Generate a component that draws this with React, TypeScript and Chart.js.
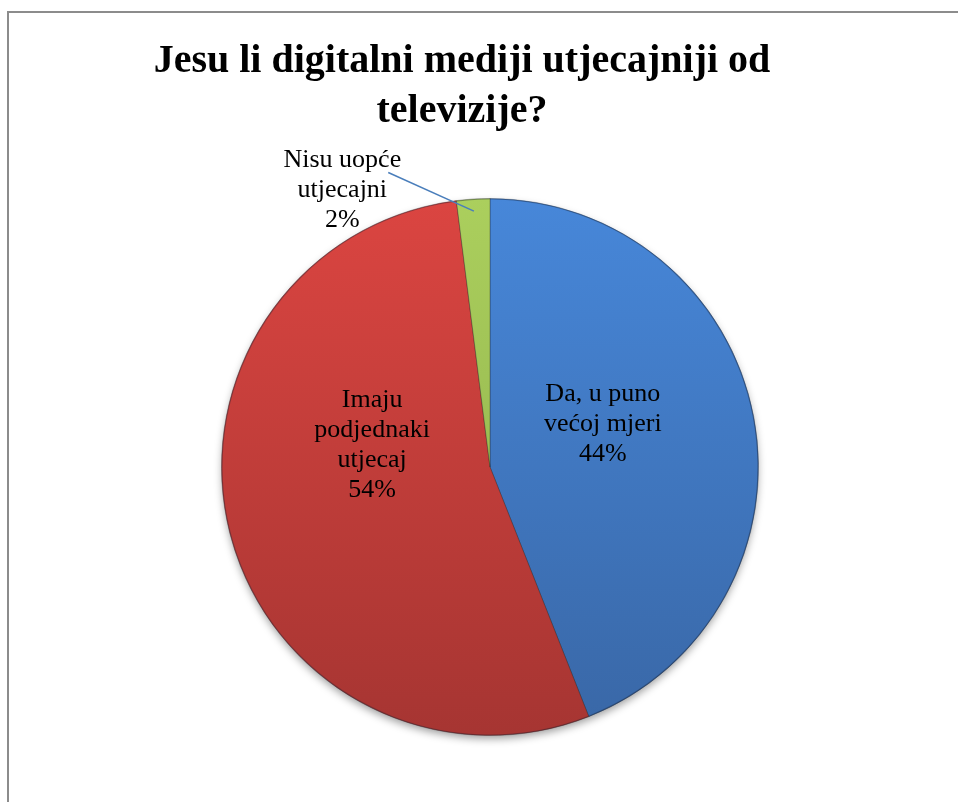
import React, { useEffect, useRef } from "react";
import { Chart, registerables } from "chart.js";

Chart.register(...registerables);

// ---- data ----
const titleLines = ["Jesu li digitalni mediji utjecajniji od", "televizije?"];
const categories = ["Da, u puno većoj mjeri", "Imaju podjednaki utjecaj", "Nisu uopće utjecajni"];
const labelLines = [["Da, u puno", "većoj mjeri"], ["Imaju", "podjednaki", "utjecaj"], ["Nisu uopće", "utjecajni"]];
const values = [44, 54, 2];

// ---- styles ----
const colorsTop = ["#4787d9", "#db4541", "#abcf5d"];
const colorsBottom = ["#3967a6", "#a63532", "#8aab48"];
const SERIF = "'Liberation Serif', 'Times New Roman', serif";
const LABEL_FONT_SIZE = 26;
const LABEL_LINE_H = 30;
// label block centre offsets relative to pie centre, in units of the radius
const labelOffsets: [number, number][] = [
  [0.42, -0.16],
  [-0.439, -0.082],
  [-0.55, -1.03],
];
const leaderStart: [number, number] = [-0.379, -1.097];
const leaderEndRadius = 0.955;

const shadowPlugin = {
  id: "pieShadow",
  beforeDatasetsDraw(chart: any) {
    const meta = chart.getDatasetMeta(0);
    const arc = meta.data[0];
    if (!arc) return;
    const { x, y, outerRadius } = arc.getProps(["x", "y", "outerRadius"], true);
    const ctx = chart.ctx;
    ctx.save();
    ctx.shadowColor = "rgba(0,0,0,0.4)";
    ctx.shadowBlur = 9;
    ctx.shadowOffsetY = 4;
    ctx.fillStyle = "#777";
    ctx.beginPath();
    ctx.arc(x, y, outerRadius - 1, 0, Math.PI * 2);
    ctx.fill();
    ctx.restore();
  },
};

const labelPlugin = {
  id: "sliceLabels",
  afterDatasetsDraw(chart: any) {
    const meta = chart.getDatasetMeta(0);
    const ctx = chart.ctx;
    const data = chart.data.datasets[0].data as number[];
    const total = data.reduce((a, b) => a + b, 0);
    ctx.save();
    // outer rim
    const a0 = meta.data[0];
    if (a0) {
      const { x, y, outerRadius } = a0.getProps(["x", "y", "outerRadius"], true);
      ctx.strokeStyle = "rgba(20,30,50,0.3)";
      ctx.lineWidth = 1.2;
      ctx.beginPath();
      ctx.arc(x, y, outerRadius - 0.5, 0, Math.PI * 2);
      ctx.stroke();
    }
    meta.data.forEach((arc: any, i: number) => {
      const { x, y, outerRadius, startAngle, endAngle } = arc.getProps(
        ["x", "y", "outerRadius", "startAngle", "endAngle"],
        true
      );
      const pct = Math.round((data[i] / total) * 100) + "%";
      const lines = [...labelLines[i], pct];
      const [ox, oy] = labelOffsets[i];
      const cx = x + ox * outerRadius;
      const cy = y + oy * outerRadius;
      if (i === 2) {
        const mid = (startAngle + endAngle) / 2;
        ctx.strokeStyle = "#4a7ebb";
        ctx.lineWidth = 1.5;
        ctx.beginPath();
        ctx.moveTo(x + leaderStart[0] * outerRadius, y + leaderStart[1] * outerRadius);
        ctx.lineTo(x + Math.cos(mid) * leaderEndRadius * outerRadius, y + Math.sin(mid) * leaderEndRadius * outerRadius);
        ctx.stroke();
      }
      ctx.fillStyle = "#000";
      ctx.font = `${LABEL_FONT_SIZE}px ${SERIF}`;
      ctx.textAlign = "center";
      ctx.textBaseline = "middle";
      const n = lines.length;
      lines.forEach((l, k) => {
        ctx.fillText(l, cx, cy + (k - (n - 1) / 2) * LABEL_LINE_H);
      });
    });
    ctx.restore();
  },
};

export default function App() {
  const canvasRef = useRef<HTMLCanvasElement | null>(null);

  useEffect(() => {
    document.body.style.margin = "0";
    document.body.style.overflow = "hidden";
    const canvas = canvasRef.current;
    if (!canvas) return;
    const chart = new Chart(canvas, {
      type: "pie",
      data: {
        labels: categories,
        datasets: [
          {
            data: values,
            backgroundColor: (c: any) => {
              const i = c.dataIndex;
              const area = c.chart.chartArea;
              if (!area) return colorsTop[i];
              const g = c.chart.ctx.createLinearGradient(0, area.top, 0, area.bottom);
              g.addColorStop(0, colorsTop[i]);
              g.addColorStop(1, colorsBottom[i]);
              return g;
            },
            borderColor: "rgba(30,30,30,0.3)",
            borderWidth: 1,
          },
        ],
      },
      options: {
        animation: false,
        responsive: true,
        maintainAspectRatio: false,
        layout: { padding: { left: 13, right: 0, top: 185, bottom: 66 } },
        plugins: {
          legend: { display: false },
          tooltip: { enabled: false },
          title: { display: false },
        },
        events: [],
      },
      plugins: [shadowPlugin, labelPlugin],
    });
    return () => chart.destroy();
  }, []);

  return (
    <div
      style={{
        position: "fixed",
        left: 7,
        top: 11,
        width: 951,
        height: 791,
        boxSizing: "border-box",
        borderLeft: "2px solid #8c8c8c",
        borderTop: "2px solid #8c8c8c",
        background: "#fff",
      }}
    >
      <div
        style={{
          position: "absolute",
          left: 0,
          top: 21,
          width: 906,
          textAlign: "center",
          fontFamily: SERIF,
          fontWeight: "bold",
          fontSize: 40,
          lineHeight: "50px",
          color: "#000",
          zIndex: 2,
          pointerEvents: "none",
        }}
      >
        {titleLines.map((t, i) => (
          <div key={i}>{t}</div>
        ))}
      </div>
      <div style={{ position: "absolute", left: 0, top: 0, width: 949, height: 789 }}>
        <canvas ref={canvasRef} />
      </div>
    </div>
  );
}
